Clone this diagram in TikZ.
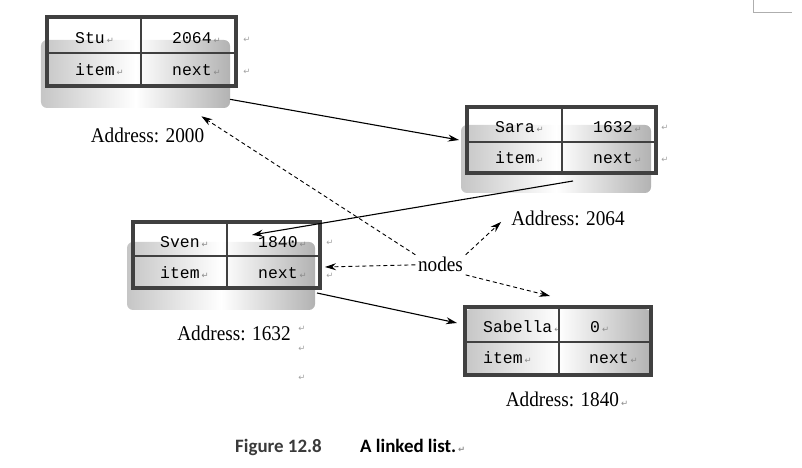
\documentclass[tikz,border=0pt]{standalone}
\usepackage{fontspec}
\setmainfont{Liberation Serif}
\setmonofont{Liberation Mono}
\newfontfamily\addrfont[FakeStretch=0.92]{Liberation Serif}
\newfontfamily\capfont{Carlito}
\newfontfamily\symfont{DejaVu Sans}
\usetikzlibrary{arrows.meta,calc}
\definecolor{boxline}{HTML}{404040}
\definecolor{markgray}{HTML}{8C8C8C}
\definecolor{figgray}{HTML}{3A3A3A}
\newcommand\parmk{\hspace{2bp}{\symfont\fontsize{8.5}{8.5}\selectfont\textcolor{markgray}{↵}}}
\begin{document}
\begin{tikzpicture}[x=1bp,y=-1bp,
  shadowbox/.style={rounded corners=6bp, left color=gray!45, right color=gray!60, middle color=white, draw=none, inner sep=0pt, outer sep=0pt},
  recbox/.style={draw=boxline, line width=3.5bp, inner sep=0pt, outer sep=0pt},
  divider/.style={draw=boxline, line width=2bp},
  cell/.style={font=\ttfamily\fontsize{16.5}{16.5}\selectfont, anchor=base west, inner sep=0pt},
  addr/.style={font=\addrfont\fontsize{21}{21}\selectfont, anchor=base, inner sep=0pt},
  mk/.style={font=\symfont\fontsize{8.5}{8.5}\selectfont, text=markgray!80, inner sep=0pt},
  capt/.style={font=\capfont\bfseries\fontsize{19}{19}\selectfont, anchor=base west, inner sep=0pt},
  link/.style={line width=1.1bp, -{Stealth[length=11bp,width=7bp]}},
  ptr/.style={line width=0.9bp, dash pattern=on 4bp off 3bp, -{Stealth[length=11bp,width=7bp]}},
]
\useasboundingbox (0,0) rectangle (802,468);

% shadows
\node[shadowbox, minimum width=189bp, minimum height=68bp] (stush) at (135.5,74) {};
\node[shadowbox, minimum width=190bp, minimum height=68bp] (sarash) at (556,159) {};
\node[shadowbox, minimum width=188bp, minimum height=68bp] (svensh) at (221,276) {};
\node[shadowbox, minimum width=186bp, minimum height=66bp] (sabsh) at (558,342) {};

% cell texts
\node[cell] (stuname) at (75,44) {Stu\parmk};
\node[cell] (stunum) at (172,44) {2064\parmk};
\node[cell] (stuitem) at (75,76) {item\parmk};
\node[cell] (stunext) at (172,76) {next\parmk};

\node[cell] (saraname) at (495,133) {Sara\parmk};
\node[cell] (saranum) at (593,133) {1632\parmk};
\node[cell] (saraitem) at (495,164) {item\parmk};
\node[cell] (saranext) at (593,164) {next\parmk};

\node[cell] (svenname) at (160,248) {Sven\parmk};
\node[cell] (svennum) at (258,248) {1840\parmk};
\node[cell] (svenitem) at (160,279) {item\parmk};
\node[cell] (svennext) at (258,279) {next\parmk};

\node[cell] (sabname) at (483,333) {Sabella\parmk};
\node[cell] (sabnum) at (590,333) {0\parmk};
\node[cell] (sabitem) at (483,364) {item\parmk};
\node[cell] (sabnext) at (589,364) {next\parmk};

% record boxes
\node[recbox, minimum width=189bp, minimum height=69bp] (stu) at (141.5,51.5) {};
\draw[divider] (141,17) -- (141,86);
\draw[divider] (47,53) -- (236,53);
\node[recbox, minimum width=189bp, minimum height=66bp] (sara) at (561.5,140) {};
\draw[divider] (562,107) -- (562,173);
\draw[divider] (467,142) -- (656,142);
\node[recbox, minimum width=187bp, minimum height=66bp] (sven) at (226.5,255) {};
\draw[divider] (227,222) -- (227,288);
\draw[divider] (133,256) -- (320,256);
\node[recbox, minimum width=186bp, minimum height=68bp] (sab) at (558,341) {};
\draw[divider] (559,307) -- (559,375);
\draw[divider] (465,342) -- (651,342);

% loose paragraph marks
\node[mk] (m1) at (247,40) {↵};
\node[mk] (m2) at (247,72) {↵};
\node[mk] (m3) at (665,128) {↵};
\node[mk] (m4) at (665,160) {↵};
\node[mk] (m5) at (330,243) {↵};
\node[mk] (m6) at (330,276) {↵};
\node[mk] (m7) at (302,329) {↵};
\node[mk] (m8) at (302,349) {↵};
\node[mk] (m9) at (302,378) {↵};

% address labels
\node[addr] (a2000) at (147.5,143) {Address: 2000};
\node[addr] (a2064) at (568,226) {Address: 2064};
\node[addr] (a1632) at (234,341) {Address: 1632};
\node[addr] (a1840) at (567,406) {Address: 1840\parmk};
\node[addr, inner sep=2.5bp] (nodes) at (440.5,272) {nodes};

% links
\draw[link] (stush.-15) -- ($(sara.west)+(-8,0)$);
\draw[link] ($(sara.south)+(11.5,8)$) -- ($(sven.north)+(25.5,13)$);
\draw[link] ($(sven.south east)+(-3,5)$) -- ($(sab.west)+(-8,-18)$);

% pointers from "nodes"
\draw[ptr] (nodes.north west) -- ($(a2000.north east)+(-3,-12)$);
\draw[ptr] (nodes.north east) -- ($(a2064.west)+(-10,3)$);
\draw[ptr] (nodes.west) -- ($(sven.east)+(5,12)$);
\draw[ptr] (nodes.south east) -- ($(sab.north)+(-8,-11)$);

% caption
\node[capt, text=figgray] (fig) at (235,452) {Figure 12.8};
\node[capt] (cap) at (360,452) {A linked list.\parmk};

% page corner mark
\draw[markgray!70, line width=1bp] (753,0) -- (753,13) -- (792,13);
\end{tikzpicture}
\end{document}
